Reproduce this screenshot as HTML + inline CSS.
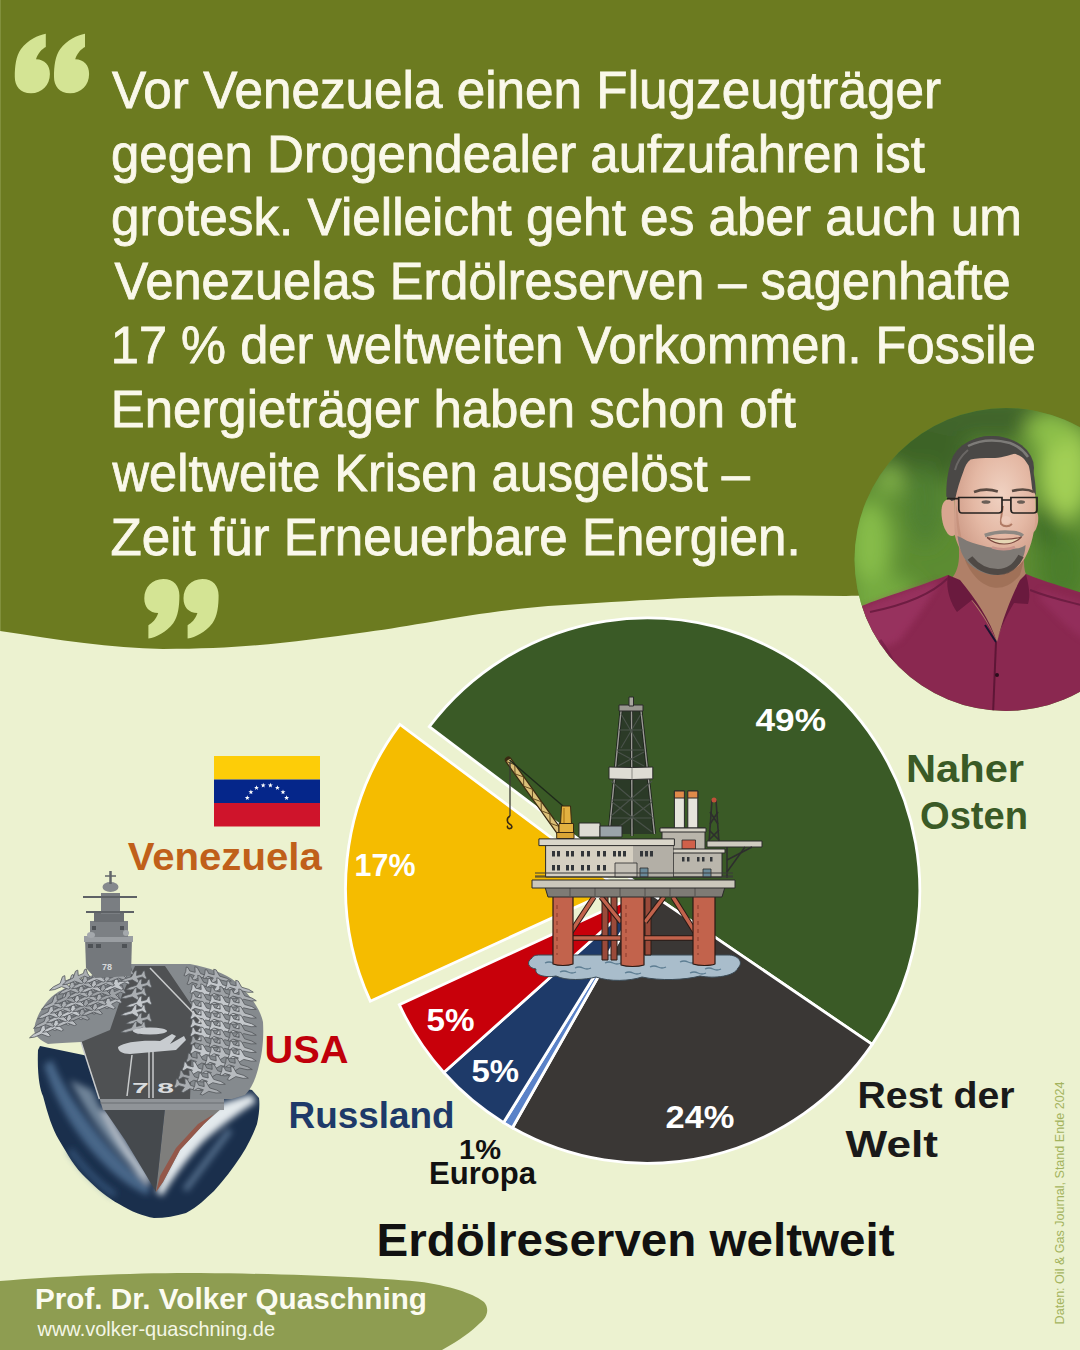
<!DOCTYPE html>
<html><head><meta charset="utf-8">
<style>
html,body{margin:0;padding:0;background:#ecf2d0;}
body{width:1080px;height:1350px;overflow:hidden;position:relative;}
svg{display:block;position:absolute;left:0;top:0;}
text{font-family:"Liberation Sans",sans-serif;}
</style></head>
<body>
<svg width="1080" height="1350" viewBox="0 0 1080 1350">
<defs>
  <radialGradient id="skin" cx="0.58" cy="0.35" r="0.7"><stop offset="0" stop-color="#f0d2c2"/><stop offset="0.5" stop-color="#e4b8a4"/><stop offset="1" stop-color="#c89480"/></radialGradient>
  <path id="plane" d="M-11,0 L-7,-1.2 L-1,-1.4 L3,-5.5 L5,-5.5 L3.5,-1.3 L8,-1.2 L10,-3.5 L11.5,-3.5 L11,0 L11.5,3.5 L10,3.5 L8,1.2 L3.5,1.3 L5,5.5 L3,5.5 L-1,1.4 L-7,1.2 Z"/>
  <clipPath id="photoClip"><circle cx="1006" cy="559.5" r="151.5"/></clipPath>
  <filter id="blur8" x="-50%" y="-50%" width="200%" height="200%"><feGaussianBlur stdDeviation="10"/></filter>
  <filter id="blur3" x="-20%" y="-20%" width="140%" height="140%"><feGaussianBlur stdDeviation="3"/></filter>
  <path id="q6" d="M45.8,33.7 C38,35 28,40 21,49 C16,56 14.8,66 14.8,77 C14.8,86 20,93.3 31,93.3 C42,93.3 49.9,85 49.9,74 C49.9,65 45,59.5 36,59.2 C38,53 42,49 45.8,47 Z"/>
</defs>
<!-- background -->
<rect x="0" y="0" width="1080" height="1350" fill="#ecf2d0"/>
<!-- olive top with wave -->
<path d="M0,0 H1080 V600 C1000,596 900,594 846,596 C760,594 680,597 548,606 C470,613 420,625 367,632 C300,641 250,649 163,649 C110,648 60,640 0,631 Z" fill="#6c7b20"/>

<rect x="0" y="0" width="1" height="631" fill="#8a9a48" opacity="0.7"/>
<!-- quote marks -->
<g fill="#d4e494">
  <use href="#q6"/>
  <use href="#q6" transform="translate(39.2,0)"/>
  <g transform="rotate(180 116.7 336.1)">
    <use href="#q6"/>
    <use href="#q6" transform="translate(39.2,0)"/>
  </g>
</g>

<!-- quote text -->
<g fill="#faf8ea" stroke="#faf8ea" stroke-width="0.8" font-size="51">
  <text x="112" y="107.8" textLength="829" lengthAdjust="spacingAndGlyphs">Vor Venezuela einen Flugzeugträger</text>
  <text x="111" y="171.6" textLength="814" lengthAdjust="spacingAndGlyphs">gegen Drogendealer aufzufahren ist</text>
  <text x="111" y="235.4" textLength="911" lengthAdjust="spacingAndGlyphs">grotesk. Vielleicht geht es aber auch um</text>
  <text x="114.5" y="299.2" textLength="896" lengthAdjust="spacingAndGlyphs">Venezuelas Erdölreserven – sagenhafte</text>
  <text x="110.8" y="363.0" textLength="925" lengthAdjust="spacingAndGlyphs">17 % der weltweiten Vorkommen. Fossile</text>
  <text x="110.8" y="427.0" textLength="685" lengthAdjust="spacingAndGlyphs">Energieträger haben schon oft</text>
  <text x="112.6" y="490.6" textLength="637.3" lengthAdjust="spacingAndGlyphs">weltweite Krisen ausgelöst –</text>
  <text x="110.6" y="554.6" textLength="690" lengthAdjust="spacingAndGlyphs">Zeit für Erneuerbare Energien.</text>
</g>

<!-- PHOTO -->
<g id="photo" clip-path="url(#photoClip)">
  <rect x="850" y="405" width="320" height="310" fill="#5c8c32"/>
  <g filter="url(#blur8)">
    <ellipse cx="910" cy="450" rx="60" ry="40" fill="#3e6426"/>
    <ellipse cx="1000" cy="418" rx="90" ry="22" fill="#40652a"/>
    <ellipse cx="1065" cy="470" rx="26" ry="50" fill="#a2cf55"/>
    <ellipse cx="1050" cy="430" rx="25" ry="18" fill="#8cbf48"/>
    <ellipse cx="870" cy="545" rx="22" ry="45" fill="#86bc48"/>
    <ellipse cx="885" cy="600" rx="35" ry="25" fill="#74aa40"/>
    <ellipse cx="925" cy="505" rx="18" ry="40" fill="#4f8030"/>
    <ellipse cx="1062" cy="565" rx="25" ry="40" fill="#4c7e2a"/>
    <ellipse cx="1045" cy="525" rx="12" ry="22" fill="#3b6a25"/>
    <ellipse cx="890" cy="480" rx="15" ry="15" fill="#80b048"/>
  </g>
  <!-- neck -->
  <path d="M958,535 C960,558 960,570 950,580 L998,645 L1028,578 C1022,570 1024,555 1026,540 Z" fill="#b08068"/>
  <path d="M965,560 C975,585 1000,600 1020,575 L1024,560 Z" fill="#96684f" opacity="0.6"/>
  <!-- shirt -->
  <path d="M850,612 C868,601 905,592 948,575 C965,590 985,615 997,642 C1005,615 1015,590 1026,574 C1050,584 1070,588 1090,596 L1090,720 L850,720 Z" fill="#8a2850"/>
  <path d="M855,612 C875,601 905,592 940,580 C930,600 915,620 900,640 C885,650 870,650 860,640 Z" fill="#a33a6a" opacity="0.55" filter="url(#blur3)"/>
  <path d="M1040,590 C1060,596 1075,600 1085,604 L1085,640 C1070,630 1055,615 1040,600 Z" fill="#9c3466" opacity="0.5" filter="url(#blur3)"/>
  <path d="M948,575 C945,590 952,605 957,612 L972,600 C985,615 992,630 997,642 C990,620 975,598 960,580 Z" fill="#6a1a3e"/>
  <path d="M1026,574 C1030,590 1030,598 1028,604 L1014,603 C1005,618 1000,630 997,642 C1002,620 1012,595 1020,580 Z" fill="#6a1a3e"/>
  <path d="M870,612 C900,606 930,596 948,578" stroke="#6e1d42" stroke-width="2" fill="none"/>
  <path d="M1030,590 C1050,598 1070,602 1085,606" stroke="#6e1d42" stroke-width="2" fill="none"/>
  <path d="M996,642 L993,715" stroke="#5e1636" stroke-width="2" fill="none"/>
  <path d="M985,625 L996,642" stroke="#1a1430" stroke-width="2" fill="none"/>
  <circle cx="997" cy="675" r="2" fill="#2a0d1c"/>
  <path d="M880,640 C895,660 905,690 912,710" stroke="#6e1d42" stroke-width="3" fill="none" opacity="0.6"/>
  <!-- ears -->
  <path d="M954,500 C948,497 942,500 941.5,510 C941,520 944,530 949,535 C952,537 955,536 956,533 Z" fill="#d8a690"/>
  <path d="M1034,512 C1037,510 1039,514 1038,522 C1037,528 1035,532 1032,533 Z" fill="#d6a48e"/>
  <ellipse cx="992" cy="468" rx="42" ry="32" fill="#4a4846"/>
  <!-- face -->
  <path d="M954.6,490 C954,478 957,465 965,458 C975,452 990,452 1005,452 C1020,453 1030,460 1033,475 C1035.5,490 1036,505 1035.5,515 C1035,530 1032,545 1025,558 C1018,568 1010,574 1000,575 C990,575 978,570 968,560 C962,553 957,545 955,536 C954,525 954,505 954.6,490 Z" fill="url(#skin)"/>
  <path d="M956,505 C956,520 957,535 962,548 C966,556 972,562 978,566 C968,556 962,545 960,530 C958,518 958,510 956,505 Z" fill="#c08a74" opacity="0.6"/>
  <!-- hair -->
  <path d="M946.3,496.4 C946,480 949,465 952.8,459.6 C958,450 964,444 970.6,440.7 C978,437 985,436 991.9,435.9 C1000,436 1006,438 1012,441.9 C1020,446 1024,450 1027.5,453.7 C1031,460 1033,465 1033.4,471.5 C1035,480 1036,488 1035.8,495.2 L1032.2,489.3 C1031,478 1030,470 1028.6,465.6 C1024,458 1021,455 1018,452.5 C1008,456 1000,458 991.9,458 C983,458 976,458 970.6,459.5 C967,462 965,466 963.4,471.5 C960,480 957,490 955,500 L951.6,501 Z" fill="#4a4846"/>
  <path d="M968,446 C980,440 995,439 1010,443 C1018,446 1024,451 1028,457" stroke="#8a8884" stroke-width="2.5" fill="none" opacity="0.8"/>
  <path d="M955,470 C957,462 962,455 968,450" stroke="#777572" stroke-width="2" fill="none" opacity="0.7"/>
  <!-- beard -->
  <path d="M957.5,536 C959,548 962,556 968,563 C975,570 985,574.6 995,575 C1005,575 1014,570 1020,563 C1024,557 1025.5,550 1025.5,545 C1020,549 1014,549 1008,548.5 C1000,548.5 990,548 984,546 C976,544 968,542 962,538 Z" fill="#7f7a75"/>
  <path d="M970,558 C978,568 988,572 998,572 C1008,572 1016,566 1021,556" stroke="#3f3a36" stroke-width="6" fill="none" opacity="0.75"/>
  <path d="M984.8,535.5 C994,532 1006,531.5 1014,532.5 C1018,533 1021,534 1022.7,536" stroke="#8e8882" stroke-width="3.5" fill="none"/>
  <!-- mouth -->
  <path d="M987,537.5 C996,546 1012,546.5 1021.5,537 C1012,540 996,540 987,537.5 Z" fill="#e6d6b4" stroke="#7a4a40" stroke-width="1.1"/>
  <path d="M992,547.4 C999,550 1009,550 1015,547" stroke="#c9948a" stroke-width="2.6" fill="none"/>
  <!-- nose -->
  <path d="M1003,506 C1002,514 1000,520 1001,524 C1004,527 1009,527 1012,524" stroke="#b07a64" stroke-width="1.8" fill="none"/>
  <ellipse cx="1006" cy="520" rx="5" ry="4" fill="#f0cfc0" opacity="0.6"/>
  <!-- eyebrows -->
  <path d="M974,492 C982,489 990,489 997.8,491.5" stroke="#5a4a42" stroke-width="2.6" fill="none"/>
  <path d="M1012,491 C1020,489 1028,489 1034,492" stroke="#5a4a42" stroke-width="2.6" fill="none"/>
  <!-- eyes -->
  <ellipse cx="986" cy="502" rx="4.5" ry="1.8" fill="#6a5e56"/>
  <ellipse cx="1021" cy="502" rx="4" ry="1.8" fill="#6a5e56"/>
  <!-- glasses -->
  <g fill="none" stroke="#26221f" stroke-width="1.7">
    <path d="M958.7,497.5 H1002 V509.5 C1002,511.5 1000.5,513 998.5,513 H962 C960,513 959,511.5 958.8,509.5 Z"/>
    <path d="M1010.9,497.5 H1037 V509.5 C1037,511.5 1035.5,513 1033.5,513 H1014 C1012,513 1011,511.5 1010.9,509.5 Z"/>
    <path d="M1002,500 L1010.9,500"/>
    <path d="M958.7,498.6 L946.9,498.6"/>
  </g>
</g>
</g>

<!-- PIE -->
<g stroke="#ffffff" stroke-width="2.8" stroke-linejoin="miter">
<path d="M647.0,890.8 L429.3,726.7 A272.6,272.6 0 0 1 872.2,1044.4 Z" fill="#3a5a26"/>
<path d="M647.0,890.8 L872.2,1044.4 A272.6,272.6 0 0 1 512.4,1127.8 Z" fill="#3a3735"/>
<path d="M647.0,890.8 L512.4,1127.8 A272.6,272.6 0 0 1 503.6,1122.6 Z" fill="#5a82c8"/>
<path d="M647.0,890.8 L503.6,1122.6 A272.6,272.6 0 0 1 443.8,1072.5 Z" fill="#1e3a69"/>
<path d="M647.0,890.8 L443.8,1072.5 A272.6,272.6 0 0 1 399.3,1004.7 Z" fill="#c8000a"/>
<path d="M618.2,887.7 L370.3,1001.2 A272.6,272.6 0 0 1 399.9,724.4 Z" fill="#f5bc00"/>
</g>

<!-- RIG placeholder -->
<g id="rig" stroke-linejoin="round">
  <!-- water -->
  <path d="M532,958 C526,962 528,968 536,969 C534,975 545,978 556,976 C566,981 585,980 596,977 C610,982 630,981 642,977 C660,981 685,980 700,976 C715,979 735,976 738,968 C744,962 738,955 728,955 L540,955 C535,955 533,956 532,958 Z" fill="#a9bdcb" stroke="#3a4a55" stroke-width="1"/>
  <g stroke="#5d7d92" stroke-width="1.3" fill="none">
    <path d="M545,963 q4,-2 8,0 t8,0"/><path d="M575,968 q4,-2 8,0 t8,0"/><path d="M605,963 q4,-2 8,0 t8,0"/>
    <path d="M650,967 q4,-2 8,0 t8,0"/><path d="M680,962 q4,-2 8,0 t8,0"/><path d="M705,969 q4,-2 8,0 t8,0"/>
    <path d="M560,972 q4,-2 8,0 t8,0"/><path d="M625,973 q4,-2 8,0 t8,0"/><path d="M690,973 q4,-2 8,0 t8,0"/>
  </g>
  <!-- back legs -->
  <g fill="#9a4a3a" stroke="#2a1a15" stroke-width="1">
    <rect x="602" y="895" width="6" height="65"/><rect x="611" y="895" width="6" height="65"/>
    <rect x="645" y="895" width="6" height="60"/>
  </g>
  <!-- braces -->
  <g stroke="#2a1a15" stroke-width="5.5" stroke-linecap="butt">
    <path d="M571,932 L594,897"/><path d="M601,897 L621,922"/><path d="M645,922 L664,897"/><path d="M673,897 L695,932"/>
    <path d="M570,938 L697,938"/>
  </g>
  <g stroke="#c2634c" stroke-width="3.5" stroke-linecap="butt">
    <path d="M571,932 L594,897"/><path d="M601,897 L621,922"/><path d="M645,922 L664,897"/><path d="M673,897 L695,932"/>
    <path d="M570,938 L697,938"/>
  </g>
  <!-- legs -->
  <g fill="#c2634c" stroke="#2a1a15" stroke-width="1.2">
    <path d="M553,896 H573 V964 C568,966 558,966 553,964 Z"/>
    <path d="M621,896 H644 V965 C638,967 627,967 621,965 Z"/>
    <path d="M693,896 H715 V964 C710,966 699,966 693,964 Z"/>
  </g>
  <g stroke="#8a3a2a" stroke-width="1" stroke-dasharray="4 4">
    <path d="M557,905 V955"/><path d="M626,905 V958"/><path d="M698,905 V955"/>
  </g>
  <!-- deck lower -->
  <path d="M545,887 H725 L722,897 H548 Z" fill="#7e7b75" stroke="#2a2a2a" stroke-width="1"/>
  <g stroke="#4a4844" stroke-width="0.8"><path d="M570,888 V896"/><path d="M595,888 V896"/><path d="M620,888 V896"/><path d="M645,888 V896"/><path d="M670,888 V896"/><path d="M695,888 V896"/></g>
  <path d="M532,880 H735 V888 H532 Z" fill="#cbc7bb" stroke="#2a2a2a" stroke-width="1"/>
  <!-- railing -->
  <path d="M535,876 H733" stroke="#3a3a3a" stroke-width="1"/>
  <!-- derrick -->
  <path d="M621,711 L641,711 L654.5,834 L609,834 Z" fill="#2b3a27"/>
  <g stroke="#1e221e" stroke-width="3" fill="none">
    <path d="M621,711 L609,834"/><path d="M641,711 L654.5,834"/><path d="M631.5,709 L632,836"/>
  </g>
  <g stroke="#9a9a94" stroke-width="1.4" fill="none">
    <path d="M621,711 L609,834"/><path d="M641,711 L654.5,834"/><path d="M631.5,709 L632,836"/>
  </g>
  <g stroke="#4a524a" stroke-width="1.1" fill="none">
    <path d="M619,730 L643,730"/><path d="M617,750 L645,750"/><path d="M612,800 L652,800"/><path d="M611,818 L653,818"/>
    <path d="M621,714 L641,748"/><path d="M641,714 L621,748"/><path d="M618,752 L644,766"/><path d="M644,752 L618,766"/>
    <path d="M611,781 L652,816"/><path d="M652,781 L611,816"/><path d="M612,802 L652,832"/><path d="M652,802 L612,832"/>
  </g>
  <path d="M619,705 H643 V711 H619 Z" fill="#9a9890" stroke="#2a2a2a" stroke-width="1"/>
  <path d="M629,697 H633.5 V706 H629 Z" fill="#a8a69e" stroke="#2a2a2a" stroke-width="1"/>
  <path d="M609,767 L632,767.5 L652.8,767 L652.8,778.9 L632,779.5 L609,778.9 Z" fill="#dedcd4" stroke="#2a2a2a" stroke-width="1"/>
  <path d="M632,767.5 V779.5" stroke="#8a8a84" stroke-width="1"/>
  <!-- crane -->
  <path d="M508.3,760.0 L561.0,834.0" stroke="#3a2a12" stroke-width="7" stroke-linecap="round"/>
  <path d="M508.3,760.0 L561.0,834.0" stroke="#dcc078" stroke-width="4.6"/>
  <polyline points="506.2,761.5 514.8,764.7 515.0,773.8 523.6,777.0 523.7,786.2 532.4,789.3 532.5,798.5 541.2,801.7 541.3,810.8 549.9,814.0 550.1,823.2 558.7,826.3 558.9,835.5" fill="none" stroke="#5a4218" stroke-width="0.9"/>
  <path d="M509.5,760 L563,806" stroke="#1e2a1a" stroke-width="1.4"/>
  <path d="M510,762 L510,816" stroke="#3a3a32" stroke-width="1.3"/>
  <path d="M510,816 C506,818 507,823 509.5,824 C512,825 513,828 510,828.5 C507.5,829 507,826.5 508,826" fill="none" stroke="#3a2a12" stroke-width="1.6"/>
  <path d="M561.5,806 H570.5 L571.5,824 H560.5 Z" fill="#e3b040" stroke="#3a2a12" stroke-width="1"/>
  <path d="M559,823.5 H573.5 V833 H559 Z" fill="#e3b040" stroke="#3a2a12" stroke-width="1"/>
  <path d="M556.7,832.5 H574 V838.5 H556.7 Z" fill="#d9a535" stroke="#3a2a12" stroke-width="1"/>
  <path d="M564,808 V823" stroke="#b88420" stroke-width="1.5"/>
  <!-- top boxes -->
  <rect x="579" y="823" width="21" height="14" fill="#dedcd4" stroke="#2a2a2a" stroke-width="1"/>
  <rect x="600" y="826" width="22" height="11" fill="#9aa4aa" stroke="#2a2a2a" stroke-width="1"/>
  <!-- chimneys & right upper -->
  <rect x="674.4" y="791" width="10" height="38" fill="#e6e4dc" stroke="#2a2a2a" stroke-width="1"/>
  <rect x="687.8" y="791" width="10" height="38" fill="#e6e4dc" stroke="#2a2a2a" stroke-width="1"/>
  <rect x="674.4" y="791" width="10" height="7" fill="#e08a4a" stroke="#2a2a2a" stroke-width="1"/>
  <rect x="687.8" y="791" width="10" height="7" fill="#e08a4a" stroke="#2a2a2a" stroke-width="1"/>
  <g stroke="#2e2e2e" stroke-width="1.6" fill="none">
    <path d="M712,800 L709,843"/><path d="M716,800 L719,843"/><path d="M710,812 L718,824"/><path d="M718,812 L710,824"/><path d="M709,830 L719,840"/><path d="M719,830 L709,840"/>
  </g>
  <circle cx="714" cy="800" r="2.5" fill="#c0503a"/>
  <path d="M662,828 H705 V852 H662 Z" fill="#b9b5ab" stroke="#2a2a2a" stroke-width="1"/>
  <path d="M660,828 H706 V832 H660 Z" fill="#d6d2c6" stroke="#2a2a2a" stroke-width="1"/>
  <rect x="682" y="840" width="13.5" height="9" fill="#d0604a" stroke="#2a2a2a" stroke-width="0.8"/>
  <!-- right building -->
  <path d="M673,850 H722 V877 H673 Z" fill="#bab6ac" stroke="#2a2a2a" stroke-width="1"/>
  <path d="M672,849 H725 V853 H672 Z" fill="#d6d2c6" stroke="#2a2a2a" stroke-width="1"/>
  <!-- helideck -->
  <path d="M707,841 H762 V847 H707 Z" fill="#cfcbc0" stroke="#2a2a2a" stroke-width="1"/>
  <g stroke="#2e2e2e" stroke-width="1.5"><path d="M727,847 L727,878"/><path d="M727,860 L752,847"/><path d="M727,872 L745,847"/></g>
  <!-- main building -->
  <path d="M545.6,844 H673 V877 H545.6 Z" fill="#d6d0c2" stroke="#2a2a2a" stroke-width="1"/>
  <path d="M633,844 H673 V877 H633 Z" fill="#b3afa6"/>
  <path d="M538.9,838.9 H674.4 V845.6 H538.9 Z" fill="#dad6ca" stroke="#2a2a2a" stroke-width="1"/>
  <g fill="#33363a">
    <rect x="552" y="851" width="3" height="5.5"/><rect x="557" y="851" width="3" height="5.5"/>
    <rect x="566" y="851" width="3" height="5.5"/><rect x="571" y="851" width="3" height="5.5"/>
    <rect x="581" y="851" width="3" height="5.5"/><rect x="587" y="851" width="3" height="5.5"/>
    <rect x="597" y="851" width="3" height="5.5"/><rect x="603" y="851" width="3" height="5.5"/>
    <rect x="613" y="851" width="3" height="5.5"/><rect x="618" y="851" width="3" height="5.5"/><rect x="623" y="851" width="3" height="5.5"/>
    <rect x="640" y="851" width="3" height="5.5"/><rect x="645" y="851" width="3" height="5.5"/><rect x="650" y="851" width="3" height="5.5"/>
    <rect x="552" y="865" width="3" height="5.5"/><rect x="557" y="865" width="3" height="5.5"/>
    <rect x="566" y="865" width="3" height="5.5"/><rect x="571" y="865" width="3" height="5.5"/>
    <rect x="581" y="865" width="3" height="5.5"/><rect x="587" y="865" width="3" height="5.5"/>
    <rect x="597" y="865" width="3" height="5.5"/><rect x="603" y="865" width="3" height="5.5"/>
    <rect x="682" y="857" width="2.5" height="4.5"/><rect x="687" y="857" width="2.5" height="4.5"/><rect x="697" y="857" width="2.5" height="4.5"/><rect x="702" y="857" width="2.5" height="4.5"/><rect x="710" y="857" width="2.5" height="4.5"/>
  </g>
  <rect x="615" y="863" width="22" height="14" fill="#c4c0b6" stroke="#2a2a2a" stroke-width="0.8"/>
  <rect x="640" y="868" width="8" height="9" fill="#6a8a9a" stroke="#2a2a2a" stroke-width="0.8"/>
  <rect x="703" y="869" width="8" height="8" fill="#6a8a9a" stroke="#2a2a2a" stroke-width="0.8"/>
  <path d="M535,873 H733" stroke="#3a3a3a" stroke-width="1.2"/>
  <path d="M535,877 H733" stroke="#3a3a3a" stroke-width="1"/>
</g>

<!-- pie labels -->
<g fill="#ffffff" font-weight="bold" font-size="32">
  <text x="755.5" y="730.6" textLength="70.5" lengthAdjust="spacingAndGlyphs">49%</text>
  <text x="354.5" y="876.4" textLength="61" lengthAdjust="spacingAndGlyphs">17%</text>
  <text x="426.5" y="1031" textLength="48" lengthAdjust="spacingAndGlyphs">5%</text>
  <text x="471.5" y="1082.1" textLength="47.5" lengthAdjust="spacingAndGlyphs">5%</text>
  <text x="665.5" y="1127.8" textLength="69" lengthAdjust="spacingAndGlyphs">24%</text>
</g>

<!-- flag -->
<g>
  <rect x="214" y="756" width="106" height="23.5" fill="#fdcd08"/>
  <rect x="214" y="779.5" width="106" height="23.5" fill="#05268a"/>
  <rect x="214" y="803" width="106" height="23.5" fill="#cf142b"/>
  <g fill="#ffffff">
<polygon points="247.30,795.30 247.92,797.05 249.77,797.10 248.30,798.22 248.83,800.00 247.30,798.95 245.77,800.00 246.30,798.22 244.83,797.10 246.68,797.05"/>
<polygon points="250.90,789.50 251.52,791.25 253.37,791.30 251.90,792.42 252.43,794.20 250.90,793.15 249.37,794.20 249.90,792.42 248.43,791.30 250.28,791.25"/>
<polygon points="256.50,785.20 257.12,786.95 258.97,787.00 257.50,788.12 258.03,789.90 256.50,788.85 254.97,789.90 255.50,788.12 254.03,787.00 255.88,786.95"/>
<polygon points="263.20,782.80 263.82,784.55 265.67,784.60 264.20,785.72 264.73,787.50 263.20,786.45 261.67,787.50 262.20,785.72 260.73,784.60 262.58,784.55"/>
<polygon points="270.40,782.80 271.02,784.55 272.87,784.60 271.40,785.72 271.930,787.50 270.40,786.45 268.87,787.50 269.40,785.72 267.93,784.60 269.78,784.55"/>
<polygon points="277.40,785.20 278.02,786.95 279.87,787.00 278.40,788.12 278.93,789.90 277.40,788.85 275.87,789.90 276.40,788.12 274.93,787.00 276.78,786.95"/>
<polygon points="283.00,789.50 283.62,791.25 285.47,791.30 284.00,792.42 284.53,794.20 283.00,793.15 281.47,794.20 282.00,792.42 280.53,791.30 282.38,791.25"/>
<polygon points="286.60,795.30 287.22,797.05 289.07,797.10 287.60,798.22 288.13,800.00 286.60,798.95 285.07,800.00 285.60,798.22 284.13,797.10 285.98,797.05"/>
  </g>
</g>

<!-- labels -->
<g font-weight="bold">
  <text x="127.7" y="870" font-size="38" fill="#c0601a" textLength="194" lengthAdjust="spacingAndGlyphs">Venezuela</text>
  <text x="264.5" y="1063" font-size="38" fill="#c0000a" textLength="84" lengthAdjust="spacingAndGlyphs">USA</text>
  <text x="288.5" y="1128.3" font-size="37" fill="#1e3a69" textLength="166" lengthAdjust="spacingAndGlyphs">Russland</text>
  <text x="459" y="1159" font-size="28.5" fill="#111111" textLength="42" lengthAdjust="spacingAndGlyphs">1%</text>
  <text x="429" y="1184" font-size="32" fill="#111111" textLength="107" lengthAdjust="spacingAndGlyphs">Europa</text>
  <text x="906" y="781.7" font-size="38" fill="#3a5a26" textLength="118" lengthAdjust="spacingAndGlyphs">Naher</text>
  <text x="920" y="829.3" font-size="38" fill="#3a5a26" textLength="108" lengthAdjust="spacingAndGlyphs">Osten</text>
  <text x="857.5" y="1107.7" font-size="36" fill="#1a1a1a" textLength="157" lengthAdjust="spacingAndGlyphs">Rest der</text>
  <text x="845.5" y="1156.7" font-size="36" fill="#1a1a1a" textLength="92.5" lengthAdjust="spacingAndGlyphs">Welt</text>
  <text x="376.5" y="1255.5" font-size="47" fill="#111111" textLength="518" lengthAdjust="spacingAndGlyphs">Erdölreserven weltweit</text>
</g>

<!-- carrier placeholder -->
<g id="carrier">
  <!-- water -->
  <path d="M38,1050 C37,1075 40,1090 43,1096 C48,1115 52,1128 59,1140 C68,1155 75,1168 86,1178 C98,1190 108,1198 119,1204 C132,1212 143,1216 154,1218 C165,1218 176,1216 186,1213 C198,1207 206,1198 214,1191 C224,1180 233,1168 241,1156 C248,1145 253,1135 257,1124 C259,1115 260,1105 259,1098 L252,1090 L40,1046 Z" fill="#1a2f4c"/>
  <g filter="url(#blur3)">
    <path d="M44,1065 C55,1100 75,1135 105,1165 C120,1180 135,1190 148,1195 L150,1186 C130,1170 110,1150 95,1130 C78,1108 62,1085 52,1060 Z" fill="#4d6d90" opacity="0.9"/>
    <path d="M70,1080 C85,1110 105,1140 130,1165 L142,1180 L146,1172 C125,1150 105,1120 92,1090 Z" fill="#a8bccc" opacity="0.6"/>
    <path d="M100,1110 C112,1135 128,1160 148,1185 L152,1178 C135,1155 120,1132 110,1110 Z" fill="#ffffff" opacity="0.6"/>
    <path d="M185,1118 C205,1110 230,1100 252,1094 L256,1102 C240,1112 222,1125 205,1140 C190,1155 175,1175 162,1196 L156,1192 C165,1170 178,1145 185,1118 Z" fill="#eef3f6" opacity="0.95"/>
    <path d="M230,1130 C215,1150 200,1170 185,1190" stroke="#6d8aa8" stroke-width="6" fill="none" opacity="0.7"/>
    <path d="M70,1150 C85,1170 100,1185 115,1195" stroke="#3a5a80" stroke-width="6" fill="none" opacity="0.8"/>
  </g>
  <!-- hull -->
  <path d="M103,1108 L165,1108 L156,1192 L146,1175 L125,1140 Z" fill="#45494d"/>
  <path d="M165,1108 L222,1108 L204,1124 L180,1150 L163,1182 L156,1192 Z" fill="#7e7e7c"/>
  <path d="M214,1114 L204,1124 L180,1150 L163,1182 L156,1192 L160,1176 L176,1148 L198,1124 Z" fill="#94584a"/>
  <path d="M99,1097 H224 V1110 H103 Z" fill="#909498"/>
  <path d="M100,1103 H224" stroke="#6a6e72" stroke-width="1"/>
  <!-- flight deck silhouette -->
  <path d="M34,1030 C36,1012 50,995 62,990 C75,982 88,976 100,973 L130,964 L190,964 C210,968 225,973 236,982 C250,995 260,1008 263,1022 C264,1040 262,1055 259,1065 C256,1078 252,1088 245,1095 L232,1099 L99.4,1099 L81,1042 C68,1043 55,1043 48,1044 C40,1040 35,1036 34,1030 Z" fill="#858a8e"/>
  <!-- runway -->
  <path d="M81,1042 L99.4,1099 L190,1099 L192,1050 L205,1025 L165,966 L135,966 L122,995 L110,1030 Z" fill="#4f5153"/>
  <!-- aircraft -->
  <g>
    <use href="#plane" transform="translate(42.0,1032.0) rotate(-25) scale(1.25)" fill="#c4c8cc" stroke="#55595d" stroke-width="0.6"/>
    <use href="#plane" transform="translate(55.0,1026.5) rotate(-25) scale(1.25)" fill="#c4c8cc" stroke="#55595d" stroke-width="0.6"/>
    <use href="#plane" transform="translate(68.0,1021.0) rotate(-25) scale(1.25)" fill="#b8bcc0" stroke="#55595d" stroke-width="0.6"/>
    <use href="#plane" transform="translate(81.0,1015.5) rotate(-25) scale(1.25)" fill="#9ea2a6" stroke="#55595d" stroke-width="0.6"/>
    <use href="#plane" transform="translate(94.0,1010.0) rotate(-25) scale(1.25)" fill="#aaaeb2" stroke="#55595d" stroke-width="0.6"/>
    <use href="#plane" transform="translate(107.0,1004.5) rotate(-25) scale(1.25)" fill="#b8bcc0" stroke="#55595d" stroke-width="0.6"/>
    <use href="#plane" transform="translate(46.0,1022.5) rotate(-25) scale(1.25)" fill="#aaaeb2" stroke="#55595d" stroke-width="0.6"/>
    <use href="#plane" transform="translate(59.0,1017.0) rotate(-25) scale(1.25)" fill="#b8bcc0" stroke="#55595d" stroke-width="0.6"/>
    <use href="#plane" transform="translate(72.0,1011.5) rotate(-25) scale(1.25)" fill="#c4c8cc" stroke="#55595d" stroke-width="0.6"/>
    <use href="#plane" transform="translate(85.0,1006.0) rotate(-25) scale(1.25)" fill="#9ea2a6" stroke="#55595d" stroke-width="0.6"/>
    <use href="#plane" transform="translate(98.0,1000.5) rotate(-25) scale(1.25)" fill="#aaaeb2" stroke="#55595d" stroke-width="0.6"/>
    <use href="#plane" transform="translate(111.0,995.0) rotate(-25) scale(1.25)" fill="#9ea2a6" stroke="#55595d" stroke-width="0.6"/>
    <use href="#plane" transform="translate(50.0,1013.0) rotate(-25) scale(1.25)" fill="#b8bcc0" stroke="#55595d" stroke-width="0.6"/>
    <use href="#plane" transform="translate(63.0,1007.5) rotate(-25) scale(1.25)" fill="#aaaeb2" stroke="#55595d" stroke-width="0.6"/>
    <use href="#plane" transform="translate(76.0,1002.0) rotate(-25) scale(1.25)" fill="#b8bcc0" stroke="#55595d" stroke-width="0.6"/>
    <use href="#plane" transform="translate(89.0,996.5) rotate(-25) scale(1.25)" fill="#aaaeb2" stroke="#55595d" stroke-width="0.6"/>
    <use href="#plane" transform="translate(102.0,991.0) rotate(-25) scale(1.25)" fill="#9ea2a6" stroke="#55595d" stroke-width="0.6"/>
    <use href="#plane" transform="translate(115.0,985.5) rotate(-25) scale(1.25)" fill="#c4c8cc" stroke="#55595d" stroke-width="0.6"/>
    <use href="#plane" transform="translate(54.0,1003.5) rotate(-25) scale(1.25)" fill="#aaaeb2" stroke="#55595d" stroke-width="0.6"/>
    <use href="#plane" transform="translate(67.0,998.0) rotate(-25) scale(1.25)" fill="#9ea2a6" stroke="#55595d" stroke-width="0.6"/>
    <use href="#plane" transform="translate(80.0,992.5) rotate(-25) scale(1.25)" fill="#aaaeb2" stroke="#55595d" stroke-width="0.6"/>
    <use href="#plane" transform="translate(93.0,987.0) rotate(-25) scale(1.25)" fill="#b8bcc0" stroke="#55595d" stroke-width="0.6"/>
    <use href="#plane" transform="translate(106.0,981.5) rotate(-25) scale(1.25)" fill="#aaaeb2" stroke="#55595d" stroke-width="0.6"/>
    <use href="#plane" transform="translate(119.0,976.0) rotate(-25) scale(1.25)" fill="#9ea2a6" stroke="#55595d" stroke-width="0.6"/>
    <use href="#plane" transform="translate(71.0,988.5) rotate(-25) scale(1.25)" fill="#aaaeb2" stroke="#55595d" stroke-width="0.6"/>
    <use href="#plane" transform="translate(84.0,983.0) rotate(-25) scale(1.25)" fill="#aaaeb2" stroke="#55595d" stroke-width="0.6"/>
    <use href="#plane" transform="translate(97.0,977.5) rotate(-25) scale(1.25)" fill="#b8bcc0" stroke="#55595d" stroke-width="0.6"/>
    <use href="#plane" transform="translate(62.0,984.5) rotate(-25) scale(1.25)" fill="#b8bcc0" stroke="#55595d" stroke-width="0.6"/>
    <use href="#plane" transform="translate(75.0,979.0) rotate(-25) scale(1.25)" fill="#aaaeb2" stroke="#55595d" stroke-width="0.6"/>
    <use href="#plane" transform="translate(133.0,978.0) rotate(-15) scale(1.15)" fill="#aaaeb2" stroke="#55595d" stroke-width="0.6"/>
    <use href="#plane" transform="translate(138.0,986.5) rotate(-15) scale(1.15)" fill="#aaaeb2" stroke="#55595d" stroke-width="0.6"/>
    <use href="#plane" transform="translate(133.0,995.0) rotate(-15) scale(1.15)" fill="#aaaeb2" stroke="#55595d" stroke-width="0.6"/>
    <use href="#plane" transform="translate(138.0,1003.5) rotate(-15) scale(1.15)" fill="#c4c8cc" stroke="#55595d" stroke-width="0.6"/>
    <use href="#plane" transform="translate(133.0,1012.0) rotate(-15) scale(1.15)" fill="#c4c8cc" stroke="#55595d" stroke-width="0.6"/>
    <use href="#plane" transform="translate(138.0,1020.5) rotate(-15) scale(1.15)" fill="#aaaeb2" stroke="#55595d" stroke-width="0.6"/>
    <use href="#plane" transform="translate(133.0,1029.0) rotate(-15) scale(1.15)" fill="#aaaeb2" stroke="#55595d" stroke-width="0.6"/>
    <use href="#plane" transform="translate(199.0,975.0) rotate(195) scale(1.25)" fill="#aaaeb2" stroke="#55595d" stroke-width="0.6"/>
    <use href="#plane" transform="translate(218.0,977.5) rotate(195) scale(1.25)" fill="#aaaeb2" stroke="#55595d" stroke-width="0.6"/>
    <use href="#plane" transform="translate(202.0,983.6) rotate(195) scale(1.25)" fill="#9ea2a6" stroke="#55595d" stroke-width="0.6"/>
    <use href="#plane" transform="translate(221.0,986.1) rotate(195) scale(1.25)" fill="#c4c8cc" stroke="#55595d" stroke-width="0.6"/>
    <use href="#plane" transform="translate(240.0,988.6) rotate(195) scale(1.25)" fill="#b8bcc0" stroke="#55595d" stroke-width="0.6"/>
    <use href="#plane" transform="translate(205.0,992.2) rotate(195) scale(1.25)" fill="#c4c8cc" stroke="#55595d" stroke-width="0.6"/>
    <use href="#plane" transform="translate(224.0,994.7) rotate(195) scale(1.25)" fill="#9ea2a6" stroke="#55595d" stroke-width="0.6"/>
    <use href="#plane" transform="translate(243.0,997.2) rotate(195) scale(1.25)" fill="#aaaeb2" stroke="#55595d" stroke-width="0.6"/>
    <use href="#plane" transform="translate(205.0,1000.8) rotate(195) scale(1.25)" fill="#aaaeb2" stroke="#55595d" stroke-width="0.6"/>
    <use href="#plane" transform="translate(224.0,1003.3) rotate(195) scale(1.25)" fill="#c4c8cc" stroke="#55595d" stroke-width="0.6"/>
    <use href="#plane" transform="translate(243.0,1005.8) rotate(195) scale(1.25)" fill="#b8bcc0" stroke="#55595d" stroke-width="0.6"/>
    <use href="#plane" transform="translate(205.0,1009.4) rotate(195) scale(1.25)" fill="#c4c8cc" stroke="#55595d" stroke-width="0.6"/>
    <use href="#plane" transform="translate(224.0,1011.9) rotate(195) scale(1.25)" fill="#c4c8cc" stroke="#55595d" stroke-width="0.6"/>
    <use href="#plane" transform="translate(243.0,1014.4) rotate(195) scale(1.25)" fill="#b8bcc0" stroke="#55595d" stroke-width="0.6"/>
    <use href="#plane" transform="translate(205.0,1018.0) rotate(195) scale(1.25)" fill="#c4c8cc" stroke="#55595d" stroke-width="0.6"/>
    <use href="#plane" transform="translate(224.0,1020.5) rotate(195) scale(1.25)" fill="#b8bcc0" stroke="#55595d" stroke-width="0.6"/>
    <use href="#plane" transform="translate(243.0,1023.0) rotate(195) scale(1.25)" fill="#c4c8cc" stroke="#55595d" stroke-width="0.6"/>
    <use href="#plane" transform="translate(205.0,1026.6) rotate(195) scale(1.25)" fill="#c4c8cc" stroke="#55595d" stroke-width="0.6"/>
    <use href="#plane" transform="translate(224.0,1029.1) rotate(195) scale(1.25)" fill="#c4c8cc" stroke="#55595d" stroke-width="0.6"/>
    <use href="#plane" transform="translate(243.0,1031.6) rotate(195) scale(1.25)" fill="#9ea2a6" stroke="#55595d" stroke-width="0.6"/>
    <use href="#plane" transform="translate(205.0,1035.2) rotate(195) scale(1.25)" fill="#c4c8cc" stroke="#55595d" stroke-width="0.6"/>
    <use href="#plane" transform="translate(224.0,1037.7) rotate(195) scale(1.25)" fill="#aaaeb2" stroke="#55595d" stroke-width="0.6"/>
    <use href="#plane" transform="translate(243.0,1040.2) rotate(195) scale(1.25)" fill="#9ea2a6" stroke="#55595d" stroke-width="0.6"/>
    <use href="#plane" transform="translate(205.0,1043.8) rotate(195) scale(1.25)" fill="#9ea2a6" stroke="#55595d" stroke-width="0.6"/>
    <use href="#plane" transform="translate(224.0,1046.3) rotate(195) scale(1.25)" fill="#aaaeb2" stroke="#55595d" stroke-width="0.6"/>
    <use href="#plane" transform="translate(243.0,1048.8) rotate(195) scale(1.25)" fill="#b8bcc0" stroke="#55595d" stroke-width="0.6"/>
    <use href="#plane" transform="translate(205.0,1052.4) rotate(195) scale(1.25)" fill="#c4c8cc" stroke="#55595d" stroke-width="0.6"/>
    <use href="#plane" transform="translate(224.0,1054.9) rotate(195) scale(1.25)" fill="#b8bcc0" stroke="#55595d" stroke-width="0.6"/>
    <use href="#plane" transform="translate(243.0,1057.4) rotate(195) scale(1.25)" fill="#c4c8cc" stroke="#55595d" stroke-width="0.6"/>
    <use href="#plane" transform="translate(201.0,1061.0) rotate(195) scale(1.25)" fill="#9ea2a6" stroke="#55595d" stroke-width="0.6"/>
    <use href="#plane" transform="translate(220.0,1063.5) rotate(195) scale(1.25)" fill="#b8bcc0" stroke="#55595d" stroke-width="0.6"/>
    <use href="#plane" transform="translate(239.0,1066.0) rotate(195) scale(1.25)" fill="#9ea2a6" stroke="#55595d" stroke-width="0.6"/>
    <use href="#plane" transform="translate(197.0,1069.6) rotate(195) scale(1.25)" fill="#c4c8cc" stroke="#55595d" stroke-width="0.6"/>
    <use href="#plane" transform="translate(216.0,1072.1) rotate(195) scale(1.25)" fill="#9ea2a6" stroke="#55595d" stroke-width="0.6"/>
    <use href="#plane" transform="translate(235.0,1074.6) rotate(195) scale(1.25)" fill="#b8bcc0" stroke="#55595d" stroke-width="0.6"/>
    <use href="#plane" transform="translate(193.0,1078.2) rotate(195) scale(1.25)" fill="#9ea2a6" stroke="#55595d" stroke-width="0.6"/>
    <use href="#plane" transform="translate(212.0,1080.7) rotate(195) scale(1.25)" fill="#b8bcc0" stroke="#55595d" stroke-width="0.6"/>
    <use href="#plane" transform="translate(189.0,1086.8) rotate(195) scale(1.25)" fill="#aaaeb2" stroke="#55595d" stroke-width="0.6"/>
    <use href="#plane" transform="translate(208.0,1089.3) rotate(195) scale(1.25)" fill="#aaaeb2" stroke="#55595d" stroke-width="0.6"/>
  </g>
  <!-- big planes center -->
  <g fill="#c8ccd0">
    <ellipse cx="150" cy="1031" rx="17" ry="3.5"/>
    <path d="M118,1047 C125,1042 140,1040 160,1041 L172,1034 L176,1036 L170,1044 L184,1036 L186,1040 L176,1050 L130,1054 C122,1054 118,1051 118,1047 Z"/>
  </g>
  <!-- deck markings -->
  <g stroke="#c9cbcc" stroke-width="1.5" fill="none">
    <path d="M132,1055 L127,1096"/><path d="M149,1052 L149,1098"/><path d="M153,1052 L153,1098"/>
    <path d="M150,968 L205,1025"/>
    <path d="M81,1042 L99.4,1099"/>
  </g>
  <text x="132" y="1093" font-size="15.5" font-weight="bold" fill="#dadcde" textLength="42" lengthAdjust="spacingAndGlyphs">7 8</text>
  <!-- island -->
  <path d="M85,938 L132,938 L131,976 L95,978 L86,968 Z" fill="#74787c"/>
  <path d="M84,936 H133 V942 H84 Z" fill="#9a9ea2"/>
  <path d="M90,921 H128 V937 H90 Z" fill="#7c8084"/>
  <path d="M94,913 H124 V922 H94 Z" fill="#6a6e72"/>
  <path d="M101,893 H120 V914 H101 Z" fill="#7a7e82"/>
  <path d="M83,897 H137" stroke="#5e6266" stroke-width="2.2"/>
  <path d="M86,912 H134" stroke="#5e6266" stroke-width="2.2"/>
  <ellipse cx="110.5" cy="887" rx="8" ry="5" fill="#85898d"/>
  <path d="M110.5,871 V884" stroke="#62666a" stroke-width="2.5"/>
  <path d="M105,876 H116" stroke="#62666a" stroke-width="1.5"/>
  <g fill="#4e5256"><rect x="88" y="944" width="5" height="4"/><rect x="96" y="944" width="5" height="4"/><rect x="122" y="944" width="5" height="4"/><rect x="92" y="926" width="4" height="4"/><rect x="120" y="926" width="4" height="4"/></g>
  <ellipse cx="91" cy="935" rx="4" ry="3" fill="#a4a8ac"/>
  <ellipse cx="126" cy="933" rx="3" ry="3" fill="#a4a8ac"/>
  <text x="102" y="970" font-size="9" font-weight="bold" fill="#d8dadc">78</text>
</g>

<!-- footer -->
<path d="M0,1281 C60,1276 140,1272.5 200,1273 C300,1274 380,1278 424,1282.2 C455,1287 476,1295 484,1302 C490,1309 487,1318 480,1323 C472,1331 460,1340 442,1350 L0,1350 Z" fill="#8e9d51"/>
<text x="35" y="1309" font-size="30" font-weight="bold" fill="#fbfbf0" textLength="392" lengthAdjust="spacingAndGlyphs">Prof. Dr. Volker Quaschning</text>
<text x="37.5" y="1336" font-size="21" fill="#f4f6e6" textLength="237.5" lengthAdjust="spacingAndGlyphs">www.volker-quaschning.de</text>

<!-- vertical source -->
<text transform="translate(1064.4,1324.4) rotate(-90)" font-size="13" fill="#a4b45e" textLength="243" lengthAdjust="spacingAndGlyphs">Daten: Oil &amp; Gas Journal,  Stand Ende 2024</text>
</svg>
</body></html>
